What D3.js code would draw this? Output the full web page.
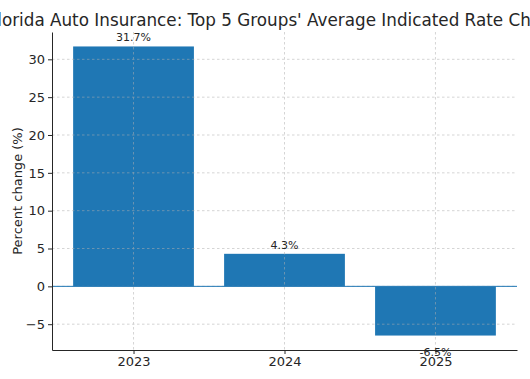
<!DOCTYPE html>
<html>
<head>
<meta charset="utf-8">
<script src="https://cdn.jsdelivr.net/npm/d3@7"></script>
<style>
  body { margin: 0; background: #fff; }
  svg { display: block; font-family: "DejaVu Sans", sans-serif; }
</style>
</head>
<body>
<div id="chart"></div>
<script>
// Data
const years = ['2023', '2024', '2025'];
const rateChanges = [31.7, 4.3, -6.5];
const yTicks = [-5, 0, 5, 10, 15, 20, 25, 30];
const title = "Florida Auto Insurance: Top 5 Groups' Average Indicated Rate Changes";

const W = 530, H = 379;
const margin = { left: 52, right: 13, top: 32, bottom: 29 };

const svg = d3.select('#chart').append('svg')
    .attr('width', W)
    .attr('height', H);

// Scales
const x = d3.scaleLinear()
    .domain([-0.54, 2.54])
    .range([margin.left, W - margin.right]);
const y = d3.scaleLinear()
    .domain([-8.41, 33.61])
    .range([H - margin.bottom, margin.top]);
const barW = x(0.8) - x(0);

// Bars
svg.selectAll('.bar')
    .data(rateChanges)
    .join('rect')
    .attr('class', 'bar')
    .attr('x', (d, i) => x(i - 0.4))
    .attr('width', barW)
    .attr('y', d => y(Math.max(0, d)))
    .attr('height', d => Math.abs(y(d) - y(0)))
    .attr('fill', '#1f77b4');

// Grid (drawn over bars)
const grid = svg.append('g')
    .attr('stroke', '#b0b0b0')
    .attr('stroke-width', 0.8)
    .attr('stroke-dasharray', '2.5,2.5')
    .attr('opacity', 0.65);
grid.selectAll('.gy')
    .data(yTicks)
    .join('line')
    .attr('x1', margin.left).attr('x2', W - margin.right)
    .attr('y1', d => y(d)).attr('y2', d => y(d));
grid.selectAll('.gx')
    .data(years)
    .join('line')
    .attr('x1', (d, i) => x(i)).attr('x2', (d, i) => x(i))
    .attr('y1', margin.top).attr('y2', H - margin.bottom);

// Zero line
svg.append('line')
    .attr('x1', margin.left).attr('x2', W - margin.right)
    .attr('y1', y(0)).attr('y2', y(0))
    .attr('stroke', '#1f77b4')
    .attr('stroke-width', 1);

// Axes
const yAxis = svg.append('g')
    .attr('transform', `translate(${margin.left},0)`)
    .call(d3.axisLeft(y).tickValues(yTicks).tickSize(4).tickSizeOuter(0).tickPadding(3));
const xAxis = svg.append('g')
    .attr('transform', `translate(0,${H - margin.bottom})`)
    .call(d3.axisBottom(x).tickValues([0, 1, 2]).tickFormat(i => years[i]).tickSize(4).tickSizeOuter(0).tickPadding(3));

[yAxis, xAxis].forEach(a => {
    a.select('.domain').attr('stroke', '#262626').attr('stroke-width', 1);
    a.selectAll('.tick line').attr('stroke', '#262626');
    a.selectAll('.tick text')
        .attr('fill', '#262626')
        .style('font-size', '13px')
        .style('font-family', '"DejaVu Sans", sans-serif');
});

// Value labels
svg.selectAll('.val')
    .data(rateChanges)
    .join('text')
    .attr('class', 'val')
    .attr('x', (d, i) => x(i))
    .attr('y', d => d >= 0 ? y(d) - 5 : y(d) + 20)
    .attr('text-anchor', 'middle')
    .attr('fill', '#262626')
    .style('font-size', '11px')
    .text(d => d.toFixed(1) + '%');

// Y label
svg.append('text')
    .attr('transform', `translate(22,${(margin.top + H - margin.bottom) / 2}) rotate(-90)`)
    .attr('text-anchor', 'middle')
    .attr('fill', '#262626')
    .style('font-size', '13px')
    .text('Percent change (%)');

// Title
svg.append('text')
    .attr('x', (margin.left + W - margin.right) / 2)
    .attr('y', 26)
    .attr('text-anchor', 'middle')
    .attr('fill', '#262626')
    .style('font-size', '16.8px')
    .text(title);
</script>
</body>
</html>
